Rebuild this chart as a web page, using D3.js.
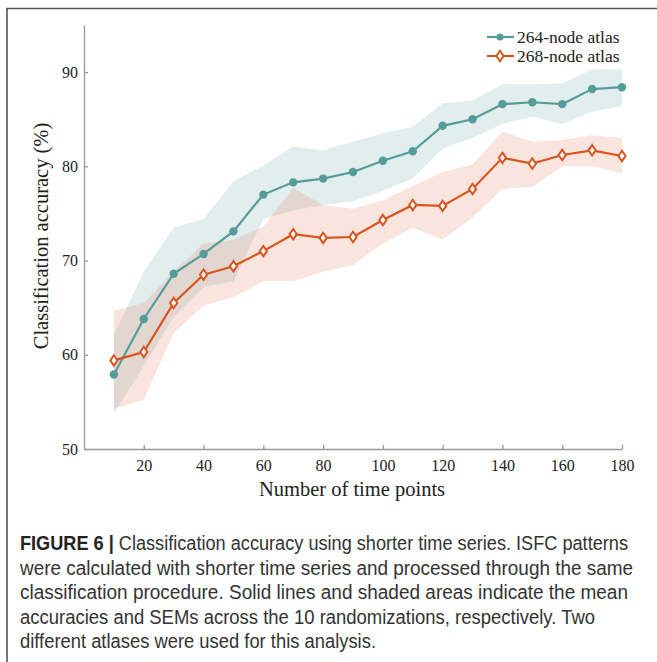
<!DOCTYPE html>
<html>
<head>
<meta charset="utf-8">
<script src="https://cdn.jsdelivr.net/npm/d3@7"></script>
<style>
  body { margin: 0; background: #fff; }
  svg { display: block; }
  .tick text { font-family: "Liberation Serif", "Times New Roman", serif; font-size: 16px; fill: #222; }
  .axis path, .axis line { stroke: #999; stroke-width: 1.3; }
  .axis-label { font-family: "Liberation Serif", "Times New Roman", serif; font-size: 20.5px; fill: #222; }
  .legend text { font-family: "Liberation Serif", "Times New Roman", serif; font-size: 17.5px; fill: #222; }
  .caption { font-family: "Liberation Sans Narrow", "Liberation Sans", Arial, sans-serif; font-size: 18px; fill: #333; }
</style>
</head>
<body>
<svg id="chart" width="657" height="662"></svg>
<script>
const timePoints = [10, 20, 30, 40, 50, 60, 70, 80, 90, 100, 110, 120, 130, 140, 150, 160, 170, 180];

const mean264 = [57.9, 63.8, 68.6, 70.7, 73.1, 77.0, 78.3, 78.7, 79.4, 80.6, 81.6, 84.3, 85.0, 86.6, 86.8, 86.6, 88.2, 88.4];
const upper264 = [62.1, 68.8, 73.5, 74.4, 78.4, 80.1, 82.1, 81.7, 82.6, 83.5, 84.2, 86.7, 87.0, 88.7, 88.7, 88.8, 90.3, 90.3];
const lower264 = [53.8, 58.8, 64.0, 67.2, 67.8, 74.4, 75.3, 75.9, 76.3, 77.4, 78.7, 81.9, 83.0, 84.5, 85.3, 84.5, 85.8, 86.4];

const mean268 = [59.4, 60.3, 65.5, 68.5, 69.4, 71.0, 72.8, 72.4, 72.5, 74.3, 75.9, 75.8, 77.6, 80.9, 80.3, 81.2, 81.7, 81.1];
const upper268 = [64.7, 65.5, 68.8, 71.8, 72.2, 73.6, 77.7, 75.9, 75.5, 76.4, 77.9, 79.4, 80.2, 83.7, 82.6, 82.8, 83.3, 83.0];
const lower268 = [54.3, 55.2, 62.3, 65.2, 66.1, 67.8, 67.8, 68.8, 69.5, 71.8, 73.5, 72.2, 74.6, 77.6, 77.8, 80.0, 80.0, 79.3];

const xTicks = [20, 40, 60, 80, 100, 120, 140, 160, 180];
const yTicks = [50, 60, 70, 80, 90];
const seriesNames = ["264-node atlas", "268-node atlas"];

const captionLines = [
  ["FIGURE 6 | ", "Classification accuracy using shorter time series. ISFC patterns"],
  ["", "were calculated with shorter time series and processed through the same"],
  ["", "classification procedure. Solid lines and shaded areas indicate the mean"],
  ["", "accuracies and SEMs across the 10 randomizations, respectively. Two"],
  ["", "different atlases were used for this analysis."]
];
const captionWidths = [608, 613, 608, 575, 356];

const teal = "#559c99", orange = "#da5420";

const svg = d3.select("#chart");

// frame
svg.append("path")
  .attr("d", "M7,662 V8.5 H657")
  .attr("fill", "none")
  .attr("stroke", "#555")
  .attr("stroke-width", 1.6);

const x = d3.scaleLinear().domain([0, 180]).range([84, 622]);
const y = d3.scaleLinear().domain([50, 95]).range([449, 25]);

const series = [
  { name: seriesNames[0], mean: mean264, upper: upper264, lower: lower264, color: teal, fill: "rgba(85,156,153,0.17)" },
  { name: seriesNames[1], mean: mean268, upper: upper268, lower: lower268, color: orange, fill: "rgba(225,110,70,0.18)" }
];

const area = d3.area()
  .x(d => x(d.t))
  .y0(d => y(d.lo))
  .y1(d => y(d.hi));

const line = d3.line()
  .x(d => x(d.t))
  .y(d => y(d.v));

series.forEach(s => {
  const band = timePoints.map((t, i) => ({ t: t, lo: s.lower[i], hi: s.upper[i] }));
  svg.append("path")
    .attr("d", area(band))
    .attr("fill", s.fill);
});

// axes
svg.append("g")
  .attr("class", "axis")
  .attr("transform", "translate(0,449)")
  .call(d3.axisBottom(x).tickValues(xTicks).tickSizeInner(-4).tickSizeOuter(0).tickPadding(11));

svg.append("g")
  .attr("class", "axis")
  .attr("transform", "translate(84,0)")
  .call(d3.axisLeft(y).tickValues(yTicks).tickSizeInner(-4).tickSizeOuter(0).tickPadding(6));

const diamond = "M0,-5.2L3.6,0L0,5.2L-3.6,0Z";

series.forEach((s, k) => {
  const pts = timePoints.map((t, i) => ({ t: t, v: s.mean[i] }));
  svg.append("path")
    .attr("d", line(pts))
    .attr("fill", "none")
    .attr("stroke", s.color)
    .attr("stroke-width", 2.2);
  if (k === 0) {
    svg.selectAll(".dot264").data(pts).enter().append("circle")
      .attr("cx", d => x(d.t))
      .attr("cy", d => y(d.v))
      .attr("r", 4.2)
      .attr("fill", s.color);
  } else {
    svg.selectAll(".dia268").data(pts).enter().append("path")
      .attr("d", diamond)
      .attr("transform", d => `translate(${x(d.t)},${y(d.v)})`)
      .attr("fill", "#fff")
      .attr("stroke", s.color)
      .attr("stroke-width", 2);
  }
});

// axis labels
svg.append("text")
  .attr("class", "axis-label")
  .attr("text-anchor", "middle")
  .attr("x", 352)
  .attr("y", 496)
  .text("Number of time points");

svg.append("text")
  .attr("class", "axis-label")
  .attr("text-anchor", "middle")
  .attr("transform", "translate(48,236) rotate(-90)")
  .text("Classification accuracy (%)");

// legend
const legend = svg.append("g").attr("class", "legend");
series.forEach((s, k) => {
  const ly = 37 + k * 19;
  legend.append("line")
    .attr("x1", 487).attr("x2", 514)
    .attr("y1", ly).attr("y2", ly)
    .attr("stroke", s.color).attr("stroke-width", 2.2);
  if (k === 0) {
    legend.append("circle").attr("cx", 500).attr("cy", ly).attr("r", 3.6).attr("fill", s.color);
  } else {
    legend.append("path").attr("d", diamond)
      .attr("transform", `translate(500,${ly})`)
      .attr("fill", "#fff").attr("stroke", s.color).attr("stroke-width", 2);
  }
  legend.append("text")
    .attr("x", 517)
    .attr("y", ly + 5.5)
    .text(s.name);
});

// caption, slightly stretched vertically to mimic the condensed face
captionLines.forEach((ln, i) => {
  const t = svg.append("text")
    .attr("class", "caption")
    .attr("transform", `translate(20,${550 + i * 24.6}) scale(1,1.1)`)
    .attr("textLength", captionWidths[i])
    .attr("lengthAdjust", "spacingAndGlyphs");
  if (ln[0]) t.append("tspan").attr("font-weight", "bold").attr("fill", "#222").text(ln[0]);
  t.append("tspan").text(ln[1]);
});
</script>
</body>
</html>
